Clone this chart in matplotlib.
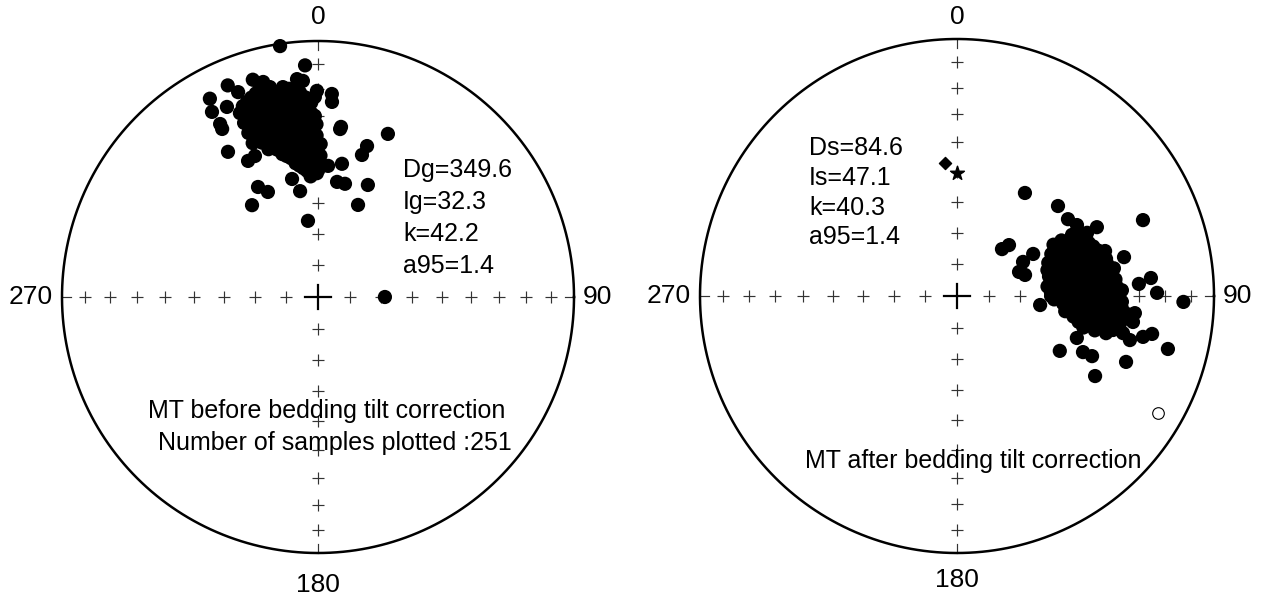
import numpy as np
import matplotlib.pyplot as plt

plt.rcParams['font.family'] = ['Liberation Sans', 'DejaVu Sans']

# MT directions before tilt correction (declination, inclination)
geo_dec = [351.4, 356.8, 343.3, 345.7, 347.1, 336.9, 338.7, 331.4, 330.2, 330.5,
           334.4, 330.3, 354.5, 356.0, 359.7, 359.1, 3.9, 4.1, 359.0, 7.7,
           23.2, 18.0, 17.2, 328.2, 332.8, 335.9, 331.4, 334.5, 324.3, 10.2,
           4.4, 9.4, 13.4, 24.0, 350.4, 347.6, 23.5, 352.5, 7.5, 90.0,
           337, 337, 337, 337,
           338.5, 338.5, 338.5, 338.5,
           340, 340, 340, 340, 340,
           341.5, 341.5, 341.5, 341.5, 341.5, 341.5,
           343, 343, 343, 343, 343, 343,
           344.5, 344.5, 344.5, 344.5, 344.5, 344.5, 344.5,
           346, 346, 346, 346, 346, 346, 346,
           347.5, 347.5, 347.5, 347.5, 347.5, 347.5, 347.5,
           349, 349, 349, 349, 349, 349, 349,
           350.5, 350.5, 350.5, 350.5, 350.5, 350.5, 350.5, 350.5,
           352, 352, 352, 352, 352, 352, 352, 352,
           353.5, 353.5, 353.5, 353.5, 353.5, 353.5, 353.5, 353.5,
           355, 355, 355, 355, 355, 355, 355, 355,
           356.5, 356.5, 356.5, 356.5, 356.5, 356.5, 356.5, 356.5,
           358, 358, 358, 358, 358, 358, 358,
           359.5, 359.5, 359.5, 359.5, 359.5,
           1, 1, 1]
geo_inc = [1.0, 10.3, 12.4, 14.4, 17.0, 11.1, 15.2, 12.8, 17.8, 23.4,
           18.8, 25.4, 15.6, 16.5, 20.6, 22.9, 21.6, 24.6, 30.0, 33.4,
           31.3, 38.0, 41.5, 33.7, 40.0, 39.5, 49.5, 52.5, 53.6, 46.1,
           47.4, 52.4, 52.5, 50.4, 55.5, 51.0, 57.8, 65.5, 34.2, 68.7,
           23, 27, 31, 35,
           21, 25, 29, 33,
           20, 24, 28, 32, 36,
           19, 23, 27, 31, 35, 39,
           18, 22, 26, 30, 34, 38,
           16, 20, 24, 28, 32, 36, 40,
           18, 22, 26, 30, 34, 38, 42,
           19, 23, 27, 31, 35, 39, 43,
           20, 24, 28, 32, 36, 40, 44,
           18, 22, 26, 30, 34, 38, 42, 46,
           19, 23, 27, 31, 35, 39, 43, 47,
           20, 24, 28, 32, 36, 40, 44, 48,
           21, 25, 29, 33, 37, 41, 45, 49,
           23, 27, 31, 35, 39, 43, 47, 51,
           25, 29, 33, 37, 41, 45, 49,
           33, 37, 42, 46, 50,
           40, 44, 48]

# MT directions after tilt correction
strat_dec = [33.4, 48.3, 67.8, 43.8, 45.6, 62.7, 68.8, 72.8, 61.1, 96.2,
             76.9, 84.7, 86.2, 89.1, 91.5, 118.1, 109.3, 114.0, 114.0, 120.1,
             111.3, 104.1, 101.0, 102.4, 102.3, 102.6, 104.3, 98.4, 95.5, 55.3,
             59.4, 63.8, 64.1, 73.1,
             62, 62, 62,
             64, 64, 64,
             66, 66, 66, 66,
             68, 68, 68, 68,
             70, 70, 70, 70, 70,
             72, 72, 72, 72, 72,
             74, 74, 74, 74, 74, 74,
             76, 76, 76, 76, 76, 76,
             78, 78, 78, 78, 78, 78,
             80, 80, 80, 80, 80, 80,
             82, 82, 82, 82, 82, 82,
             84, 84, 84, 84, 84, 84, 84,
             86, 86, 86, 86, 86, 86,
             88, 88, 88, 88, 88, 88, 88,
             90, 90, 90, 90, 90, 90, 90,
             92, 92, 92, 92, 92, 92, 92,
             94, 94, 94, 94, 94, 94,
             96, 96, 96, 96, 96, 96,
             98, 98, 98, 98, 98, 98,
             100, 100, 100, 100, 100,
             102, 102, 102, 102,
             104, 104, 104]
strat_inc = [50.3, 46.3, 22.9, 69.4, 66.9, 66.4, 68.9, 67.4, 62.3, 63.4,
             33.7, 25.2, 29.8, 23.2, 12.9, 52.6, 49.1, 45.4, 42.0, 37.9,
             30.1, 16.5, 23.7, 26.8, 37.9, 34.2, 31.2, 31.4, 31.1, 46.4,
             44.9, 39.2, 43.1, 39.6,
             48, 52, 55,
             46, 50, 54,
             45, 49, 53, 57,
             44, 48, 52, 56,
             43, 47, 51, 55, 59,
             42, 46, 50, 54, 58,
             41, 45, 49, 53, 57, 60,
             40, 43, 47, 51, 55, 59,
             40, 44, 48, 52, 56, 60,
             38, 42, 46, 50, 54, 58,
             39, 43, 47, 51, 55, 59,
             38, 41, 45, 49, 53, 57, 61,
             38, 42, 46, 50, 54, 58,
             36, 40, 44, 48, 52, 56, 60,
             37, 41, 45, 49, 53, 57, 60,
             36, 39, 43, 47, 51, 55, 59,
             36, 40, 44, 48, 52, 56,
             34, 38, 42, 46, 50, 54,
             35, 39, 43, 47, 51, 55,
             36, 40, 44, 48, 52,
             38, 42, 46, 50,
             40, 44, 48]

# single directions on the corrected net
star_dec, star_inc = 0.0, 50.4
diamond_dec, diamond_inc = 354.8, 46.9
upper_dec, upper_inc = 120.3, -10.5

geo_stats = ['Dg=349.6', 'Ig=32.3', 'k=42.2', 'a95=1.4']
strat_stats = ['Ds=84.6', 'Is=47.1', 'k=40.3', 'a95=1.4']
grid_incs = [80, 70, 60, 50, 40, 30, 20, 10]

W, H = 1266, 601
LIM = 1.25


def project(dec, inc):
    # Schmidt equal-area projection, unit radius
    d = np.radians(np.asarray(dec, dtype=float))
    i = np.abs(np.asarray(inc, dtype=float))
    r = np.sqrt(2) * np.sin(np.radians(90 - i) / 2)
    return r * np.sin(d), r * np.cos(d)


def make_net(fig, cx, cy, R, dy_top, dy_bot):
    # cx, cy: centre in pixels from top-left, R: radius in pixels
    size = 2 * LIM * R
    ax = fig.add_axes([(cx - LIM * R) / W, (H - cy - LIM * R) / H, size / W, size / H])
    ax.set_xlim(-LIM, LIM)
    ax.set_ylim(-LIM, LIM)
    ax.axis('off')

    t = np.linspace(0, 2 * np.pi, 500)
    ax.plot(np.cos(t), np.sin(t), color='black', lw=1.8, zorder=2)

    for az in [0, 90, 180, 270]:
        x, y = project([az] * len(grid_incs), grid_incs)
        ax.scatter(x, y, marker='+', s=80, lw=0.85, color='#333333', zorder=1)
        a = np.radians(az)
        ax.plot([0.965 * np.sin(a), np.sin(a)], [0.965 * np.cos(a), np.cos(a)],
                color='#333333', lw=0.85, zorder=1)
    ax.plot([-0.05, 0.05], [0, 0], color='black', lw=1.6, zorder=1)
    ax.plot([0, 0], [-0.046, 0.046], color='black', lw=1.6, zorder=1)

    ax.text(0, dy_top, '0', ha='center', va='center', fontsize=19)
    ax.text(0, dy_bot, '180', ha='center', va='center', fontsize=19)
    ax.text(1.035, 0, '90', ha='left', va='center', fontsize=19)
    ax.text(-1.035, 0, '270', ha='right', va='center', fontsize=19)
    return ax


fig = plt.figure(figsize=(W / 100, H / 100), dpi=100)

# before tilt correction
ax1 = make_net(fig, 318, 297, 256, 1.094, -1.125)
x, y = project(geo_dec, geo_inc)
ax1.scatter(x, y, s=105, color='black', edgecolors='none', zorder=3)
for k, line in enumerate(geo_stats):
    ax1.text(0.332, 0.469 - 0.125 * k, line, ha='left', va='baseline', fontsize=18)
ax1.text(0.035, -0.473, 'MT before bedding tilt correction', ha='center',
         va='baseline', fontsize=18)
ax1.text(0.066, -0.598, 'Number of samples plotted :251', ha='center',
         va='baseline', fontsize=18)

# after tilt correction
ax2 = make_net(fig, 957, 296, 257, 1.086, -1.105)
x, y = project(strat_dec, strat_inc)
ax2.scatter(x, y, s=105, color='black', edgecolors='none', zorder=3)
x, y = project(upper_dec, upper_inc)
ax2.scatter(x, y, s=70, facecolors='white', edgecolors='black', lw=0.8, zorder=3)
x, y = project(star_dec, star_inc)
ax2.scatter(x, y, marker='*', s=110, color='black', zorder=3)
x, y = project(diamond_dec, diamond_inc)
ax2.scatter(x, y, marker='D', s=38, color='black', zorder=3)
for k, line in enumerate(strat_stats):
    ax2.text(-0.576, 0.549 - 0.116 * k, line, ha='left', va='baseline', fontsize=18)
ax2.text(0.062, -0.669, 'MT after bedding tilt correction', ha='center',
         va='baseline', fontsize=18)

fig.savefig('out.png', dpi=100, facecolor='white')
